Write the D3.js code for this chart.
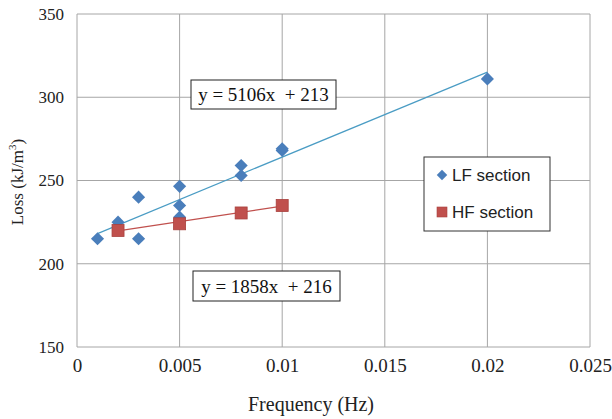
<!DOCTYPE html>
<html><head><meta charset="utf-8">
<script src="https://cdn.jsdelivr.net/npm/d3@7"></script>
<style>body{margin:0;background:#fff}</style>
</head><body>
<svg id="c" width="612" height="419"></svg>
<script>
const xTicks = [0, 0.005, 0.01, 0.015, 0.02, 0.025];
const xTickLabels = ["0", "0.005", "0.01", "0.015", "0.02", "0.025"];
const yTicks = [150, 200, 250, 300, 350];
const lfX = [0.001, 0.002, 0.003, 0.003, 0.005, 0.005, 0.005, 0.008, 0.008, 0.01, 0.01, 0.02];
const lfY = [215, 225, 240, 215, 246.5, 235, 228, 259, 253, 268, 269, 311];
const hfX = [0.002, 0.005, 0.008, 0.01];
const hfY = [220, 224, 230.5, 235];
const lfFit = {slope: 5106, intercept: 213, label: "y = 5106x  + 213"};
const hfFit = {slope: 1858, intercept: 216, label: "y = 1858x  + 216"};
const seriesNames = ["LF section", "HF section"];

const svg = d3.select("#c");
const L = 77, R = 590, T = 14, B = 347;
const x = d3.scaleLinear().domain([0, 0.025]).range([L, R]);
const y = d3.scaleLinear().domain([150, 350]).range([B, T]);
const serif = "'Liberation Serif','Times New Roman',serif";
const sans = "'Liberation Sans',Arial,sans-serif";

// grid
const g = svg.append("g");
g.selectAll("line.h").data(yTicks).join("line")
  .attr("x1", L).attr("x2", R).attr("y1", d => y(d)).attr("y2", d => y(d))
  .attr("stroke", "#a6a6a6").attr("stroke-width", 1);
g.selectAll("line.v").data(xTicks).join("line")
  .attr("y1", T).attr("y2", B).attr("x1", d => x(d)).attr("x2", d => x(d))
  .attr("stroke", "#a6a6a6").attr("stroke-width", 1);

// axes
const xa = svg.append("g").attr("transform", `translate(0,${B})`)
  .call(d3.axisBottom(x).tickValues(xTicks).tickFormat((d, i) => xTickLabels[i]).tickSize(0).tickPadding(12));
xa.select(".domain").remove();
xa.selectAll("text").attr("font-family", serif).attr("font-size", 19).attr("fill", "#222");
const ya = svg.append("g").attr("transform", `translate(${L},0)`)
  .call(d3.axisLeft(y).tickValues(yTicks).tickSize(0).tickPadding(13));
ya.select(".domain").remove();
ya.selectAll("text").attr("font-family", serif).attr("font-size", 17).attr("fill", "#222");

svg.append("text").attr("x", 311).attr("y", 411).attr("text-anchor", "middle")
  .attr("font-family", serif).attr("font-size", 20).attr("fill", "#222").text("Frequency (Hz)");
const yl = svg.append("text").attr("transform", `translate(23,182) rotate(-90)`)
  .attr("text-anchor", "middle").attr("font-family", serif).attr("font-size", 17).attr("fill", "#222");
yl.append("tspan").text("Loss (kJ/m");
yl.append("tspan").attr("dy", -7).attr("font-size", 11).text("3");
yl.append("tspan").attr("dy", 7).text(")");

// trendlines
function fitLine(fit, xs, color) {
  const x0 = d3.min(xs), x1 = d3.max(xs);
  svg.append("line").attr("x1", x(x0)).attr("y1", y(fit.slope * x0 + fit.intercept))
    .attr("x2", x(x1)).attr("y2", y(fit.slope * x1 + fit.intercept))
    .attr("stroke", color).attr("stroke-width", 1.2);
}
fitLine(lfFit, lfX, "#4a9cc4");

// LF diamonds
const diamond = d3.symbol().type(d3.symbolDiamond2).size(110);
svg.append("g").selectAll("path").data(lfX.map((d, i) => [d, lfY[i]])).join("path")
  .attr("d", diamond).attr("transform", d => `translate(${x(d[0])},${y(d[1])})`)
  .attr("fill", "#4a7ebb");

// HF squares
fitLine(hfFit, hfX, "#c0504d");
svg.append("g").selectAll("rect").data(hfX.map((d, i) => [d, hfY[i]])).join("rect")
  .attr("x", d => x(d[0]) - 6).attr("y", d => y(d[1]) - 6).attr("width", 12).attr("height", 12)
  .attr("fill", "#c0504d").attr("stroke", "#a8403d").attr("stroke-width", 0.8);

// equation labels
function eqLabel(fit, bx, by, bw, bh) {
  svg.append("rect").attr("x", bx).attr("y", by).attr("width", bw).attr("height", bh)
    .attr("fill", "#fff").attr("stroke", "#222").attr("stroke-width", 1);
  svg.append("text").attr("x", bx + bw / 2).attr("y", by + bh / 2 + 6.5).attr("text-anchor", "middle")
    .attr("font-family", serif).attr("font-size", 19).attr("fill", "#111")
    .style("white-space", "pre").text(fit.label);
}
eqLabel(lfFit, 191, 80, 145, 29);
eqLabel(hfFit, 193, 271, 147, 30);

// legend
svg.append("rect").attr("x", 424).attr("y", 157).attr("width", 126).attr("height", 74)
  .attr("fill", "#fff").attr("stroke", "#333").attr("stroke-width", 1);
svg.append("path").attr("d", d3.symbol().type(d3.symbolDiamond2).size(70))
  .attr("transform", "translate(442,175)").attr("fill", "#4a7ebb");
svg.append("rect").attr("x", 437).attr("y", 207).attr("width", 10).attr("height", 10)
  .attr("fill", "#c0504d").attr("stroke", "#a8403d").attr("stroke-width", 0.6);
svg.append("text").attr("x", 452).attr("y", 181).attr("font-family", sans).attr("font-size", 17)
  .attr("fill", "#222").text(seriesNames[0]);
svg.append("text").attr("x", 452).attr("y", 218).attr("font-family", sans).attr("font-size", 17)
  .attr("fill", "#222").text(seriesNames[1]);
</script>
</body></html>
